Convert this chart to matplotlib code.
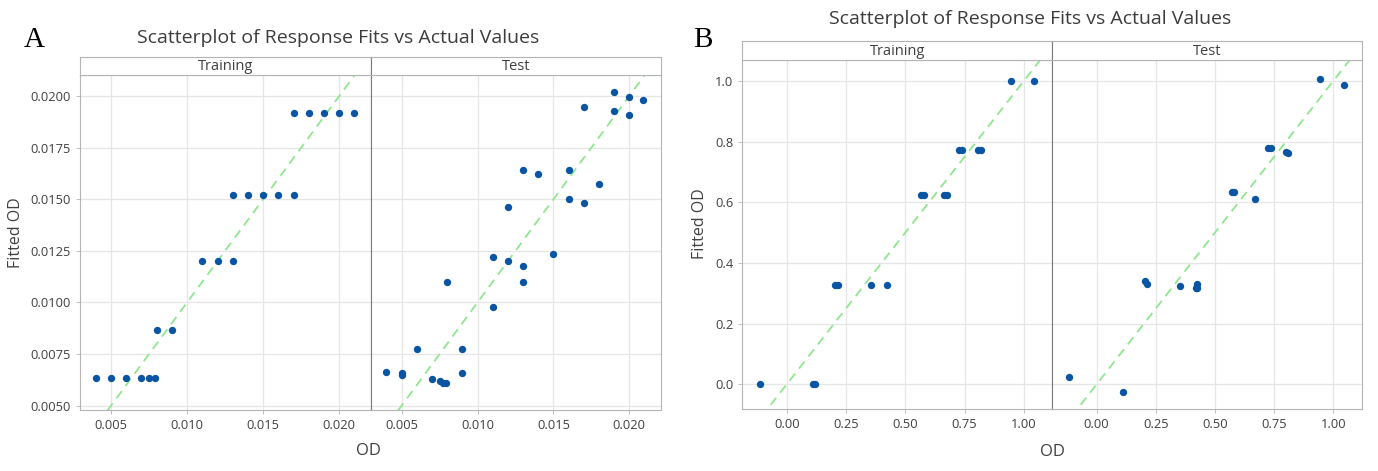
import matplotlib.pyplot as plt
import numpy as np

plt.rcParams["font.family"] = ["Open Sans", "DejaVu Sans"]

# panel A - training
a_train_x = [0.017, 0.018, 0.019, 0.020, 0.021,
             0.013, 0.014, 0.015, 0.016, 0.017,
             0.011, 0.012, 0.013,
             0.008, 0.009,
             0.004, 0.005, 0.006, 0.007, 0.0075, 0.0079]
a_train_y = [0.0192, 0.0192, 0.0192, 0.0192, 0.0192,
             0.0152, 0.0152, 0.0152, 0.0152, 0.0152,
             0.0120, 0.0120, 0.0120,
             0.00866, 0.00866,
             0.00634, 0.00634, 0.00634, 0.00634, 0.00634, 0.00634]
# panel A - test
a_test_x = [0.019, 0.020, 0.0209, 0.017, 0.019, 0.020,
            0.013, 0.014, 0.016, 0.018, 0.016, 0.017, 0.012,
            0.011, 0.012, 0.013, 0.015, 0.008, 0.013, 0.011,
            0.006, 0.009, 0.004, 0.005, 0.005, 0.009,
            0.007, 0.0075, 0.0077, 0.0079]
a_test_y = [0.0202, 0.01995, 0.0198, 0.01948, 0.01926, 0.01908,
            0.0164, 0.01623, 0.0164, 0.01576, 0.0150, 0.01482, 0.01464,
            0.0122, 0.0120, 0.01179, 0.01237, 0.0110, 0.0110, 0.00976,
            0.00773, 0.00773, 0.00663, 0.0066, 0.0065, 0.00657,
            0.00628, 0.0062, 0.0061, 0.0061]

# panel B - training
b_train_x = [0.945, 1.042, 0.725, 0.74, 0.805, 0.82, 0.568, 0.578, 0.665, 0.675,
             0.205, 0.215, 0.354, 0.424, -0.112, 0.11, 0.12]
b_train_y = [1.0, 1.0, 0.771, 0.771, 0.771, 0.771, 0.625, 0.625, 0.625, 0.625,
             0.328, 0.328, 0.328, 0.328, 0.0, 0.0, 0.0]
# panel B - test
b_test_x = [0.944, 1.047, 0.722, 0.738, 0.80, 0.81, 0.57, 0.58, 0.667,
            0.206, 0.212, 0.352, 0.425, 0.425, 0.42, -0.117, 0.113]
b_test_y = [1.008, 0.988, 0.78, 0.78, 0.767, 0.762, 0.633, 0.633, 0.612,
            0.341, 0.329, 0.325, 0.331, 0.318, 0.318, 0.025, -0.025]

W, H = 1378, 471
fig = plt.figure(figsize=(W / 100, H / 100), dpi=100)

dot = '#0a55a3'
frame = '#b4b4b4'
txt = '#404040'


def box(x0, x1, y0, y1):
    # pixel box -> figure rect
    return [x0 / W, 1 - y1 / H, (x1 - x0) / W, (y1 - y0) / H]


def panel(x0, xm, x1, ytop, ybot, strip_top, xlim, ylim, xticks, yticks,
          xfmt, yfmt, data):
    axs = []
    for i, (l, r) in enumerate([(x0, xm), (xm, x1)]):
        ax = fig.add_axes(box(l, r, ytop, ybot))
        xs, ys, name = data[i]
        ax.set_xlim(xlim)
        ax.set_ylim(ylim)
        ax.set_xticks(xticks)
        ax.set_yticks(yticks)
        ax.set_xticklabels([xfmt.format(v) for v in xticks])
        ax.grid(True, color='#e6e6e6', lw=0.9)
        ax.set_axisbelow(True)
        line = np.array(xlim)
        ax.plot(line, line, ls=(0, (5, 3.5)), color='#8fe68f', lw=1.3, zorder=2)
        ax.scatter(xs, ys, s=28, color=dot, zorder=3, linewidths=0)
        ax.tick_params(labelsize=9.3, colors=txt, length=3, width=0.6,
                       color=frame)
        for s in ax.spines.values():
            s.set_color(frame)
        if i == 0:
            ax.set_yticklabels([yfmt.format(v) for v in yticks])
            ax.spines['right'].set_color('#7a7a7a')
        else:
            ax.tick_params(axis='y', left=False, labelleft=False)
            ax.spines['left'].set_color('#7a7a7a')
        # strip header
        sx = fig.add_axes(box(l, r, strip_top, ytop))
        sx.set_xticks([])
        sx.set_yticks([])
        for s in sx.spines.values():
            s.set_color(frame)
        if i == 0:
            sx.spines['right'].set_color('#7a7a7a')
        else:
            sx.spines['left'].set_color('#7a7a7a')
        sx.text(0.5, 0.45, name, ha='center', va='center', fontsize=10.5,
                color=txt, transform=sx.transAxes)
        axs.append(ax)
    return axs


panel(80, 370.7, 660.7, 75, 410, 57,
      (0.00296, 0.02207), (0.00479, 0.02102),
      [0.005, 0.010, 0.015, 0.020], [0.005, 0.0075, 0.010, 0.0125, 0.015, 0.0175, 0.020],
      '{:.3f}', '{:.4f}',
      [(a_train_x, a_train_y, 'Training'), (a_test_x, a_test_y, 'Test')])

panel(742.3, 1052.3, 1361.7, 60, 409.3, 40.7,
      (-0.1875, 1.12), (-0.0825, 1.069),
      [0.0, 0.25, 0.5, 0.75, 1.0], [0.0, 0.2, 0.4, 0.6, 0.8, 1.0],
      '{:.2f}', '{:.1f}',
      [(b_train_x, b_train_y, 'Training'), (b_test_x, b_test_y, 'Test')])

# titles, axis labels and panel letters
fig.text(338 / W, 1 - 38 / H, 'Scatterplot of Response Fits vs Actual Values',
         ha='center', va='center', fontsize=14, color='#3c3c3c')
fig.text(1030 / W, 1 - 19 / H, 'Scatterplot of Response Fits vs Actual Values',
         ha='center', va='center', fontsize=14, color='#3c3c3c')
fig.text(368 / W, 1 - 451 / H, 'OD', ha='center', va='center', fontsize=12, color=txt)
fig.text(1052 / W, 1 - 452 / H, 'OD', ha='center', va='center', fontsize=12, color=txt)
fig.text(16 / W, 1 - 233 / H, 'Fitted OD', ha='center', va='center',
         rotation=90, fontsize=11.5, color=txt)
fig.text(700 / W, 1 - 224 / H, 'Fitted OD', ha='center', va='center',
         rotation=90, fontsize=11.5, color=txt)
fig.text(34 / W, 1 - 40 / H, 'A', ha='center', va='center', fontsize=21,
         family='Liberation Serif', color='black')
fig.text(703 / W, 1 - 40 / H, 'B', ha='center', va='center', fontsize=21,
         family='Liberation Serif', color='black')

fig.savefig('out.png', dpi=100)
